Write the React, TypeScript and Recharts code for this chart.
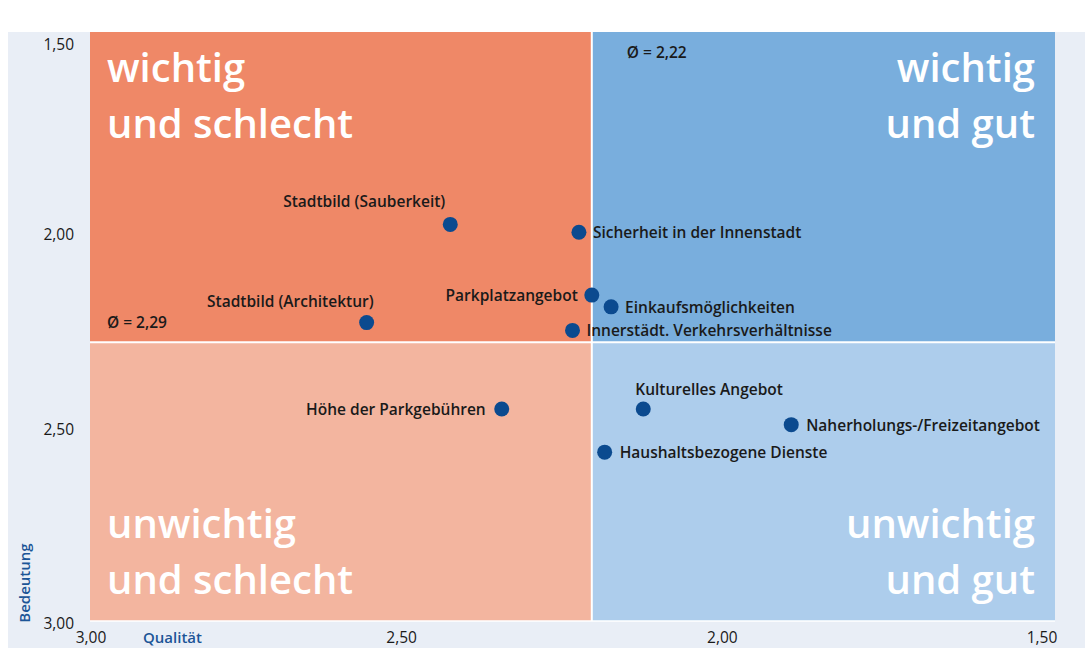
import React from 'react';
import {
  ReferenceArea,
  ReferenceLine,
  Scatter,
  ScatterChart,
  XAxis,
  YAxis,
} from 'recharts';

// Bewertung der Innenstadt: Qualität (x) vs. Bedeutung (y), jeweils 1 = sehr gut/wichtig
const categories = [
  'Stadtbild (Sauberkeit)',
  'Sicherheit in der Innenstadt',
  'Parkplatzangebot',
  'Einkaufsmöglichkeiten',
  'Innerstädt. Verkehrsverhältnisse',
  'Stadtbild (Architektur)',
  'Höhe der Parkgebühren',
  'Kulturelles Angebot',
  'Naherholungs-/Freizeitangebot',
  'Haushaltsbezogene Dienste',
];
const qualitaet = [2.44, 2.24, 2.22, 2.19, 2.25, 2.57, 2.36, 2.14, 1.91, 2.2];
const bedeutung = [1.99, 2.01, 2.17, 2.2, 2.26, 2.24, 2.46, 2.46, 2.5, 2.57];

const avgQualitaet = 2.22;
const avgBedeutung = 2.29;

const xTicks = [3, 2.5, 2, 1.5];
const yTicks = [1.5, 2, 2.5, 3];

// wo das Label neben dem Punkt steht: [dx, dy, anchor]
const labelPlacement: Record<string, [number, number, 'start' | 'end']> = {
  'Stadtbild (Sauberkeit)': [-5, -23, 'end'],
  'Sicherheit in der Innenstadt': [14, 0, 'start'],
  Parkplatzangebot: [-14, 0, 'end'],
  Einkaufsmöglichkeiten: [14, 0, 'start'],
  'Innerstädt. Verkehrsverhältnisse': [14, 0, 'start'],
  'Stadtbild (Architektur)': [7, -22, 'end'],
  'Höhe der Parkgebühren': [-16, 0, 'end'],
  'Kulturelles Angebot': [-8, -20, 'start'],
  'Naherholungs-/Freizeitangebot': [15, 0, 'start'],
  'Haushaltsbezogene Dienste': [15, 0, 'start'],
};

const FONT = "'Open Sans', 'Noto Sans', sans-serif";
const INK = '#1a1a1a';
const DOT = '#0b4a8f';
const AXIS_BLUE = '#1c5597';

const points = categories.map((name, i) => ({
  name,
  x: qualitaet[i],
  y: bedeutung[i],
}));

const fmt = (v: number) => v.toFixed(2).replace('.', ',');

function PointWithLabel(props: any) {
  const { cx, cy, payload } = props;
  const [dx, dy, anchor] = labelPlacement[payload.name] ?? [14, 0, 'start'];
  return (
    <g>
      <circle cx={cx} cy={cy} r={7.5} fill={DOT} />
      <text
        x={cx + dx}
        y={cy + dy}
        textAnchor={anchor}
        dominantBaseline="central"
        fontFamily={FONT}
        fontSize={15.5}
        fontWeight={600}
        fill={INK}
      >
        {payload.name}
      </text>
    </g>
  );
}

function quadrantLabel(lines: string[], align: 'left' | 'right', vpos: 'top' | 'bottom') {
  return (props: any) => {
    const { x, y, width, height } = props.viewBox;
    const tx = align === 'left' ? x + 17 : x + width - 20;
    const base = vpos === 'top' ? y + 50 : y + height - 83;
    return (
      <g>
        {lines.map((l, i) => (
          <text
            key={l}
            x={tx}
            y={base + i * 56}
            textAnchor={align === 'left' ? 'start' : 'end'}
            fontFamily={FONT}
            fontSize={40}
            fontWeight={600}
            fill="#ffffff"
          >
            {l}
          </text>
        ))}
      </g>
    );
  };
}

const xTickShift: Record<string, number> = { '3': 1, '2.5': -10, '2': -11, '1.5': -13 };
const yTickShift: Record<string, number> = { '1.5': 12, '2': 6, '2.5': 4, '3': 2 };

function XTick(props: any) {
  const { x, y, payload } = props;
  return (
    <text
      x={x + (xTickShift[String(payload.value)] ?? 0)}
      y={y + 8}
      textAnchor="middle"
      dominantBaseline="central"
      fontFamily={FONT}
      fontSize={15.5}
      fontWeight={500}
      fill={INK}
    >
      {fmt(payload.value)}
    </text>
  );
}

function YTick(props: any) {
  const { x, y, payload } = props;
  return (
    <text
      x={x}
      y={y + (yTickShift[String(payload.value)] ?? 0)}
      textAnchor="end"
      dominantBaseline="central"
      fontFamily={FONT}
      fontSize={15.5}
      fontWeight={500}
      fill={INK}
    >
      {fmt(payload.value)}
    </text>
  );
}

function avgLabel(text: string, dx: number, dy: number) {
  return (p: any) => (
    <text
      x={p.viewBox.x + dx}
      y={p.viewBox.y + dy}
      dominantBaseline="central"
      fontFamily={FONT}
      fontSize={15.5}
      fontWeight={600}
      fill={INK}
    >
      {text}
    </text>
  );
}

export default function App() {
  return (
    <div
      style={{
        position: 'absolute',
        left: 0,
        top: 0,
        width: 1085,
        height: 648,
        background: '#ffffff',
        fontFamily: FONT,
      }}
    >
      <div
        style={{
          position: 'absolute',
          left: 8,
          top: 32,
          width: 1077,
          height: 616,
          background: '#e9eef6',
        }}
      />
      <div style={{ position: 'absolute', left: 0, top: 0 }}>
        <ScatterChart width={1085} height={648} margin={{ top: 32, right: 30, left: 0, bottom: 0 }}>
          <XAxis
            type="number"
            dataKey="x"
            domain={[1.5, 3]}
            reversed
            ticks={xTicks}
            axisLine={false}
            tickLine={false}
            height={27}
            tick={<XTick />}
            allowDataOverflow
          />
          <YAxis
            type="number"
            dataKey="y"
            domain={[1.5, 3]}
            reversed
            ticks={yTicks}
            axisLine={false}
            tickLine={false}
            width={90}
            tickMargin={10}
            tick={<YTick />}
            allowDataOverflow
          />
          <ReferenceArea
            x1={3}
            x2={avgQualitaet}
            y1={1.5}
            y2={avgBedeutung}
            fill="#ef8867"
            fillOpacity={1}
            stroke="none"
            label={quadrantLabel(['wichtig', 'und schlecht'], 'left', 'top')}
          />
          <ReferenceArea
            x1={avgQualitaet}
            x2={1.5}
            y1={1.5}
            y2={avgBedeutung}
            fill="#79aedd"
            fillOpacity={1}
            stroke="none"
            label={quadrantLabel(['wichtig', 'und gut'], 'right', 'top')}
          />
          <ReferenceArea
            x1={3}
            x2={avgQualitaet}
            y1={avgBedeutung}
            y2={3}
            fill="#f3b59f"
            fillOpacity={1}
            stroke="none"
            label={quadrantLabel(['unwichtig', 'und schlecht'], 'left', 'bottom')}
          />
          <ReferenceArea
            x1={avgQualitaet}
            x2={1.5}
            y1={avgBedeutung}
            y2={3}
            fill="#adcdec"
            fillOpacity={1}
            stroke="none"
            label={quadrantLabel(['unwichtig', 'und gut'], 'right', 'bottom')}
          />
          <ReferenceLine
            x={avgQualitaet}
            stroke="#ffffff"
            strokeWidth={2}
            label={avgLabel(`Ø = ${fmt(avgQualitaet)}`, 35, 20)}
          />
          <ReferenceLine
            y={avgBedeutung}
            stroke="#ffffff"
            strokeWidth={2}
            label={avgLabel(`Ø = ${fmt(avgBedeutung)}`, 17, -20)}
          />
          <ReferenceLine y={3} stroke="#ffffff" strokeWidth={1.5} />
          <Scatter data={points} shape={<PointWithLabel />} isAnimationActive={false} />
        </ScatterChart>
      </div>
      <div
        style={{
          position: 'absolute',
          left: 143,
          top: 627,
          fontSize: 15,
          fontWeight: 600,
          color: AXIS_BLUE,
          lineHeight: '20px',
        }}
      >
        Qualität
      </div>
      <div
        style={{
          position: 'absolute',
          left: 24,
          top: 583,
          transform: 'translate(-50%, -50%) rotate(-90deg)',
          fontSize: 15,
          fontWeight: 600,
          color: AXIS_BLUE,
          lineHeight: '20px',
          whiteSpace: 'nowrap',
        }}
      >
        Bedeutung
      </div>
    </div>
  );
}
